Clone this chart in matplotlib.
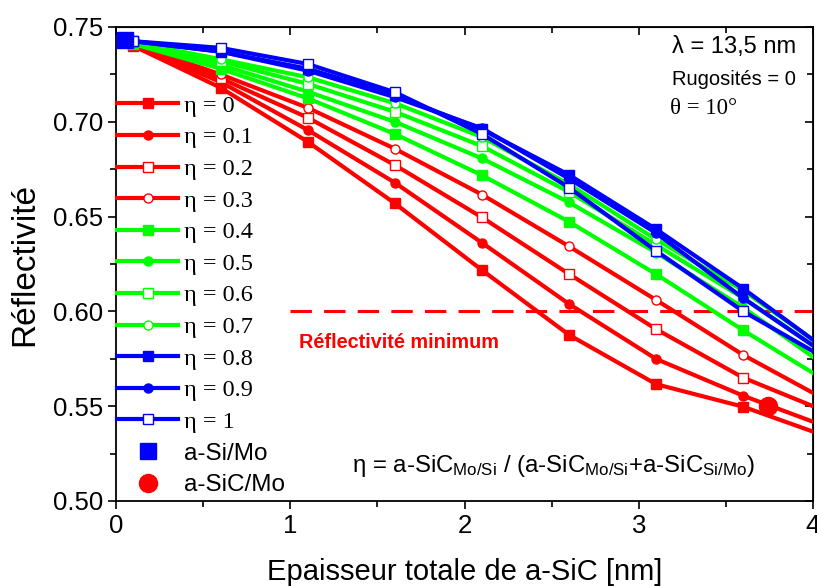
import matplotlib
matplotlib.use("Agg")
import matplotlib.pyplot as plt
from matplotlib.ticker import MultipleLocator, FormatStrFormatter

# ---------------- data ----------------
thickness = [0.1, 0.6, 1.1, 1.6, 2.1, 2.6, 3.1, 3.6, 4.0]
eta_labels = ["0", "0.1", "0.2", "0.3", "0.4", "0.5", "0.6", "0.7", "0.8", "0.9", "1"]

r_eta_00 = [0.740, 0.718, 0.6895, 0.657, 0.6218, 0.5876, 0.5616, 0.5497, 0.5366]
r_eta_01 = [0.740, 0.721, 0.6957, 0.6679, 0.6362, 0.6039, 0.5749, 0.5555, 0.5418]
r_eta_02 = [0.741, 0.723, 0.7022, 0.6772, 0.6496, 0.6197, 0.5906, 0.5650, 0.5500]
r_eta_03 = [0.741, 0.725, 0.7074, 0.6858, 0.6616, 0.6343, 0.6060, 0.5770, 0.5570]
r_eta_04 = [0.741, 0.728, 0.7124, 0.6936, 0.6718, 0.6473, 0.6196, 0.5900, 0.5675]
r_eta_05 = [0.742, 0.730, 0.7159, 0.7000, 0.6807, 0.6575, 0.6310, 0.6020, 0.5760]
r_eta_06 = [0.742, 0.732, 0.7200, 0.7053, 0.6872, 0.6630, 0.6350, 0.6070, 0.5820]
r_eta_07 = [0.742, 0.733, 0.7235, 0.7098, 0.6920, 0.6670, 0.6380, 0.6110, 0.5850]
r_eta_08 = [0.7425, 0.737, 0.728, 0.7140, 0.6960, 0.6720, 0.6433, 0.6120, 0.5850]
r_eta_09 = [0.7425, 0.737, 0.727, 0.7130, 0.6966, 0.6700, 0.6413, 0.6070, 0.5820]
r_eta_10 = [0.7425, 0.739, 0.7305, 0.7156, 0.6936, 0.6653, 0.6319, 0.6000, 0.5790]

series = [r_eta_00, r_eta_01, r_eta_02, r_eta_03, r_eta_04, r_eta_05,
          r_eta_06, r_eta_07, r_eta_08, r_eta_09, r_eta_10]

ref_asi_x, ref_asi_y = 0.05, 0.743
ref_asic_x, ref_asic_y = 3.74, 0.550
r_min = 0.60
r_min_x = [1.0, 4.0]

# ---------------- styles ----------------
RED, GREEN, BLUE = "#FF0000", "#00FF00", "#0000FF"
colors = [RED] * 4 + [GREEN] * 4 + [BLUE] * 3
markers = ["s", "o", "s", "o"] * 3
filled = [True, True, False, False] * 3

sans = ["Liberation Sans", "DejaVu Sans"]
serif = ["Liberation Serif", "DejaVu Serif"]
plt.rcParams["font.family"] = sans
plt.rcParams["mathtext.fontset"] = "custom"
plt.rcParams["mathtext.rm"] = "Liberation Sans"
plt.rcParams["mathtext.it"] = "Liberation Sans:italic"

fig = plt.figure(figsize=(8.17, 5.86), dpi=100)
ax = fig.add_axes([116 / 817, 85 / 586, 697 / 817, 474 / 586])

handles = []
for i, ys in enumerate(series):
    c = colors[i]
    fc = c if filled[i] else "white"
    ln, = ax.plot(thickness, ys, color=c, lw=3.0, marker=markers[i], ms=6.5,
                  mfc=fc, mec=c, mew=1.0, markevery=list(range(8)),
                  solid_joinstyle="round", zorder=3 + i * 0.01)
    handles.append(ln)

ax.plot(r_min_x, [r_min, r_min], color=RED, lw=2.2, ls=(0, (7, 4)), zorder=2)
ax.text(1.05, 0.5835, "Réflectivité minimum", color=RED, fontsize=14.3,
        fontweight="bold", va="center", ha="left")

h_asi, = ax.plot([ref_asi_x], [ref_asi_y], ls="none", marker="s", ms=12,
                 color=BLUE, zorder=10, clip_on=False)
h_asic, = ax.plot([ref_asic_x], [ref_asic_y], ls="none", marker="o", ms=13,
                  color=RED, zorder=10)

labels = ["η = " + s for s in eta_labels] + ["a-Si/Mo", "a-SiC/Mo"]
leg = ax.legend(handles + [h_asi, h_asic], labels, loc="upper left",
                bbox_to_anchor=(0.002, 0.857), frameon=False, fontsize=17.5,
                handlelength=2.5, handletextpad=0.25, labelspacing=0.395,
                borderpad=0, borderaxespad=0, markerscale=1.0)
for t in leg.get_texts()[:11]:
    t.set_fontfamily(serif)
leg.set_zorder(20)

ax.text(0.976, 0.958, "λ = 13,5 nm", transform=ax.transAxes, ha="right",
        va="center", fontsize=17)
ax.text(0.976, 0.890, "Rugosités = 0", transform=ax.transAxes, ha="right",
        va="center", fontsize=14.5)
ax.text(0.795, 0.829, "θ = 10°", transform=ax.transAxes, ha="left",
        va="center", fontsize=16.5, family=serif)

formula = ("η = a-SiC$_{\\mathregular{Mo/Si}}$ / "
           "(a-SiC$_{\\mathregular{Mo/Si}}$+a-SiC$_{\\mathregular{Si/Mo}}$)")
ax.text(0.917, 0.073, formula, transform=ax.transAxes, ha="right",
        va="center", fontsize=17.3)

ax.set_xlim(0, 4)
ax.set_ylim(0.50, 0.75)
ax.xaxis.set_major_locator(MultipleLocator(1))
ax.xaxis.set_minor_locator(MultipleLocator(0.5))
ax.yaxis.set_major_locator(MultipleLocator(0.05))
ax.yaxis.set_minor_locator(MultipleLocator(0.025))
ax.yaxis.set_major_formatter(FormatStrFormatter("%.2f"))
ax.tick_params(which="both", direction="out", width=1.2, labelsize=18.5,
               top=False, right=False)
ax.tick_params(which="major", length=6)
ax.tick_params(which="minor", length=4)
for s in ax.spines.values():
    s.set_linewidth(1.3)

# mirrored inward ticks on top / right
axt = ax.secondary_xaxis("top")
axt.xaxis.set_major_locator(MultipleLocator(1))
axt.xaxis.set_minor_locator(MultipleLocator(0.5))
axt.tick_params(which="both", direction="in", width=1.2, labeltop=False)
axt.tick_params(which="major", length=6)
axt.tick_params(which="minor", length=4)
axr = ax.secondary_yaxis("right")
axr.yaxis.set_major_locator(MultipleLocator(0.05))
axr.yaxis.set_minor_locator(MultipleLocator(0.025))
axr.tick_params(which="both", direction="in", width=1.2, labelright=False)
axr.tick_params(which="major", length=6)
axr.tick_params(which="minor", length=4)

ax.set_xlabel("Epaisseur totale de a-SiC [nm]", fontsize=21)
ax.xaxis.set_label_coords(0.5, -0.120)
ax.set_ylabel("Réflectivité", fontsize=24)
ax.yaxis.set_label_coords(-0.108, 0.5)

fig.savefig("out.png", dpi=100)
